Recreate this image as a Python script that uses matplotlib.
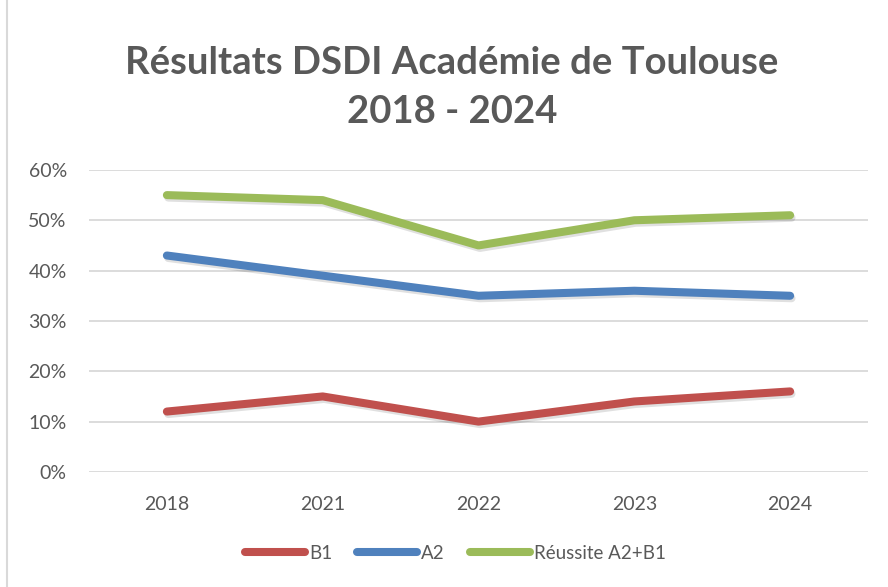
import matplotlib
matplotlib.use("Agg")
import matplotlib.pyplot as plt
import matplotlib.patheffects as pe
from matplotlib.lines import Line2D

years = ["2018", "2021", "2022", "2023", "2024"]
b1 = [0.12, 0.15, 0.10, 0.14, 0.16]
a2 = [0.43, 0.39, 0.35, 0.36, 0.35]
reussite = [0.55, 0.54, 0.45, 0.50, 0.51]
series_names = ["B1", "A2", "Réussite A2+B1"]
colors = ["#C0504D", "#4F81BD", "#9BBB59"]
yticks = [0, 0.1, 0.2, 0.3, 0.4, 0.5, 0.6]
ytick_labels = ["0%", "10%", "20%", "30%", "40%", "50%", "60%"]

plt.rcParams['font.family'] = ['Lato', 'DejaVu Sans']
txt = "#595959"

fig = plt.figure(figsize=(8.88, 5.87), dpi=100)
ax = fig.add_axes([0.1002, 0.196, 0.8773, 0.5145])

x = list(range(len(years)))
effects = [pe.SimpleLineShadow(offset=(1.0, -1.8), shadow_color='black', alpha=0.12),
           pe.Normal()]
for vals, name, c in zip([b1, a2, reussite], series_names, colors):
    ax.plot(x, vals, color=c, lw=5.8, solid_capstyle='round', solid_joinstyle='round',
            label=name, path_effects=effects, zorder=3)

ax.set_xlim(-0.5, len(years) - 0.5)
ax.set_ylim(0, 0.6)
ax.set_yticks(yticks)
ax.set_yticklabels(ytick_labels)
ax.set_xticks(x)
ax.set_xticklabels(years)
ax.grid(axis='y', color='#D9D9D9', lw=1.3, zorder=0)
for s in ax.spines.values():
    s.set_visible(False)
ax.tick_params(axis='both', length=0, labelsize=14, colors=txt)
ax.tick_params(axis='y', pad=16)
ax.tick_params(axis='x', pad=17)

fig.text(0.509, 0.851, "Résultats DSDI Académie de Toulouse\n2018 - 2024",
         ha='center', va='center', fontsize=27.5, fontweight='bold', color=txt,
         linespacing=1.55)

handles = [Line2D([0], [0], color=c, lw=5.8, solid_capstyle='round') for c in colors]
fig.legend(handles, series_names, loc='center', bbox_to_anchor=(0.513, 0.057),
           ncol=3, frameon=False, fontsize=13.5, handlelength=3.2, handletextpad=0.2,
           columnspacing=1.35, labelcolor=txt)

fig.add_artist(Line2D([0.008, 0.008], [0, 1], color='#D9D9D9', lw=1.5,
                      transform=fig.transFigure))

fig.savefig("out.png", dpi=100)
